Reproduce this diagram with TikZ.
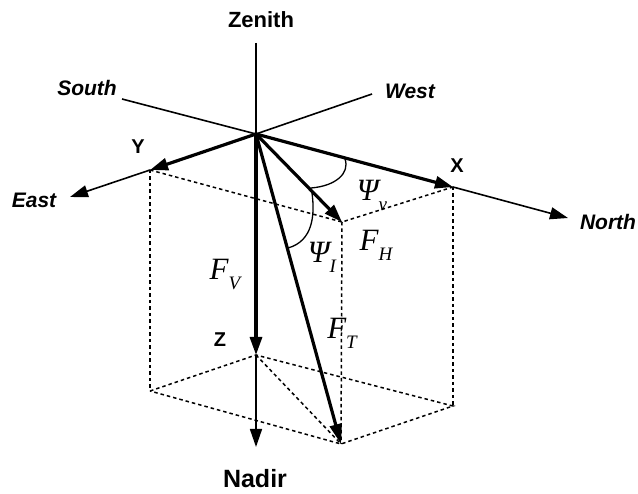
\documentclass[tikz,border=0pt]{standalone}
\usepackage{fontspec}
\setmainfont{Liberation Sans}
\newfontfamily\lserif{Liberation Serif}
\usetikzlibrary{arrows.meta}
\newcommand{\sublab}[2]{#1\raisebox{-10pt}{\fontsize{19}{19}\selectfont #2}}
\begin{document}
\begin{tikzpicture}[x=1pt,y=-1pt,
  axisline/.style={line width=1.6pt},
  vec/.style={line width=3.2pt},
  tipa/.style={-{Triangle[length=18pt,width=12pt]}},
  tipb/.style={-{Triangle[length=20pt,width=12pt]}},
  guide/.style={line width=1.5pt, dash pattern=on 3.5pt off 3pt},
  arcline/.style={line width=1.3pt},
  dirlab/.style={font=\fontsize{21}{21}\selectfont\bfseries\itshape, inner sep=1pt},
  polelab/.style={font=\fontsize{22}{22}\selectfont\bfseries, inner sep=1pt},
  axlab/.style={font=\fontsize{20}{20}\selectfont\bfseries, inner sep=1pt},
  mlab/.style={font=\lserif\itshape\fontsize{31}{31}\selectfont, inner sep=0pt}]
\useasboundingbox (0,0) rectangle (638,494);
% points
\coordinate (O) at (256,134);
\coordinate (Zt) at (256,43);
\coordinate (S) at (122,99);
\coordinate (W) at (372,94);
\coordinate (Y) at (150,170);
\coordinate (E) at (70,197);
\coordinate (X) at (453,187);
\coordinate (N) at (568,218);
\coordinate (H) at (342,222);
\coordinate (Z) at (256,355);
\coordinate (Nd) at (256,447);
\coordinate (Yb) at (150,391);
\coordinate (Xb) at (453,406);
\coordinate (Hb) at (341,444);
% dashed box
\draw[guide] (Y) -- (H) -- (X);
\draw[guide] (Y) -- (Yb);
\draw[guide] (X) -- (Xb);
\draw[guide] (H) -- (Hb);
\draw[guide] (Yb) -- (Z) -- (Xb) -- (Hb) -- (Yb);
\draw[guide] (Z) -- (Hb);
% thin axes
\draw[axisline] (S) -- (O) -- (W);
\draw[axisline] (Zt) -- (O);
\draw[axisline, tipa] (Y) -- (E);
\draw[axisline, tipa] (X) -- (N);
\draw[axisline, tipa] (Z) -- (Nd);
% thick vectors
\draw[vec, tipa] (O) -- (Y);
\draw[vec, tipa] (O) -- (X);
\draw[vec, tipa] (O) -- (Z);
\draw[vec, tipa] (O) -- (H);
\draw[vec, tipb] (O) -- (Hb);
% angle arcs
\draw[arcline] (345,159) .. controls (350,173) and (336,186) .. (311,188);
\draw[arcline] (312,193) .. controls (315,215) and (313,241) .. (288,248);
% labels
\node[polelab] (zen) at (261,20) {Zenith};
\node[polelab, font=\fontsize{25}{25}\selectfont\bfseries] (nad) at (255,479) {Nadir};
\node[dirlab] (south) at (87,88) {South};
\node[dirlab] (west) at (410,91) {West};
\node[dirlab] (east) at (34,200) {East};
\node[dirlab] (north) at (608,222) {North};
\node[axlab] (ylab) at (138,147) {Y};
\node[axlab] (xlab) at (457,166) {X};
\node[axlab] (zlab) at (220,340) {Z};
\node[mlab] (fv) at (225,274) {\sublab{F}{V}};
\node[mlab] (fh) at (376,245) {\sublab{F}{H}};
\node[mlab] (fT) at (342,333) {\sublab{F}{T}};
\node[mlab] (psii) at (322,257) {\sublab{Ψ}{I}};
\node[mlab] (psiv) at (372,195) {\sublab{Ψ}{v}};
\end{tikzpicture}
\end{document}
